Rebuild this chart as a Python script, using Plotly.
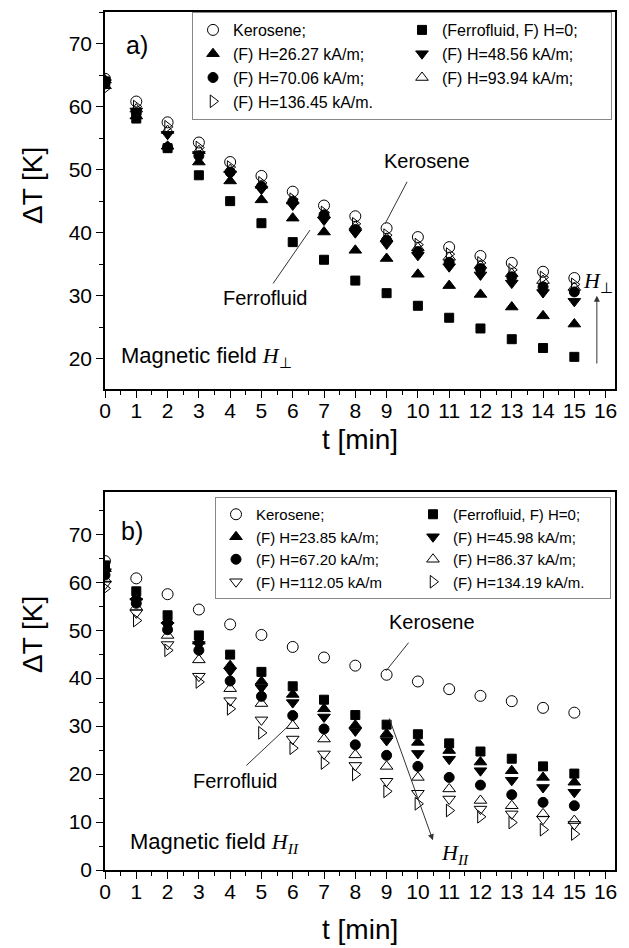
import plotly.graph_objects as go

# ---------------- data ----------------
t_min = list(range(16))

kerosene = [64.4, 60.8, 57.5, 54.3, 51.2, 49.0, 46.5, 44.3, 42.6, 40.7, 39.3, 37.7, 36.3, 35.2, 33.8, 32.8]

# panel a) perpendicular field
a_labels = ["(Ferrofluid, F) H=0;", "(F) H=26.27 kA/m;", "(F) H=48.56 kA/m;",
            "(F) H=70.06 kA/m;", "(F) H=93.94 kA/m;", "(F) H=136.45 kA/m."]
a_H0 = [64.0, 58.1, 53.4, 49.1, 45.0, 41.5, 38.5, 35.7, 32.4, 30.4, 28.4, 26.5, 24.8, 23.1, 21.7, 20.3]
a_H26 = [64.2, 58.5, 53.7, 51.2, 48.2, 45.2, 42.3, 40.1, 37.2, 35.9, 33.4, 31.6, 30.2, 28.2, 26.8, 25.5]
a_H48 = [63.8, 59.3, 55.6, 52.4, 49.3, 46.9, 44.4, 42.0, 40.0, 38.2, 36.4, 34.6, 33.3, 32.0, 30.5, 29.1]
a_H70 = [63.6, 59.0, 53.5, 52.2, 49.6, 47.3, 44.9, 42.8, 40.5, 38.8, 37.0, 35.3, 34.3, 33.0, 31.4, 30.6]
a_H94 = [63.3, 59.6, 56.2, 53.0, 50.0, 47.5, 45.0, 42.8, 41.0, 39.1, 37.6, 36.1, 34.8, 33.5, 32.4, 31.3]
a_H136 = [62.9, 60.0, 56.8, 53.5, 50.4, 47.9, 45.3, 43.2, 41.4, 39.6, 38.1, 36.6, 35.2, 34.1, 32.9, 31.8]

# panel b) parallel field
b_labels = ["(Ferrofluid, F) H=0;", "(F) H=23.85 kA/m;", "(F) H=45.98 kA/m;",
            "(F) H=67.20 kA/m;", "(F) H=86.37 kA/m;", "(F) H=112.05 kA/m", "(F) H=134.19 kA/m."]
b_H0 = [63.5, 58.1, 53.1, 48.9, 44.9, 41.3, 38.3, 35.5, 32.3, 30.3, 28.3, 26.4, 24.7, 23.2, 21.6, 20.1]
b_H24 = [62.8, 56.9, 52.0, 47.7, 42.6, 39.3, 36.6, 33.6, 30.2, 28.4, 26.6, 24.9, 22.5, 20.7, 19.3, 18.3]
b_H46 = [62.2, 56.0, 51.0, 47.0, 41.5, 38.0, 34.9, 31.9, 29.0, 27.0, 24.3, 23.1, 20.7, 18.7, 17.2, 16.2]
b_H67 = [61.5, 55.6, 50.1, 45.8, 39.4, 36.2, 32.2, 29.4, 26.1, 23.9, 21.6, 19.3, 17.7, 15.7, 14.1, 13.4]
b_H86 = [60.6, 54.8, 48.9, 43.8, 37.8, 34.7, 30.1, 27.3, 24.0, 21.6, 19.3, 16.9, 14.5, 13.4, 11.7, 10.3]
b_H112 = [59.6, 53.6, 47.0, 40.4, 35.3, 31.3, 27.3, 24.2, 21.8, 18.5, 16.0, 14.8, 12.7, 11.7, 10.6, 9.5]
b_H134 = [58.7, 52.0, 45.8, 39.2, 33.6, 28.6, 25.4, 22.3, 19.9, 16.4, 13.8, 12.4, 11.1, 9.9, 8.4, 7.5]

# ---------------- figure ----------------
FONT = "Liberation Sans, Arial, sans-serif"
SERIF = "Liberation Serif, Times New Roman, serif"
fig = go.Figure()

def add(y, name, symbol, xa, ya, leg, size=10):
    fig.add_trace(go.Scatter(
        x=t_min, y=y, mode="markers", name=name, legend=leg,
        xaxis=xa, yaxis=ya,
        marker=dict(symbol=symbol, size=size, color="black",
                    line=dict(color="black", width=1))))

add(kerosene, "Kerosene;", "circle-open", "x", "y", "legend", 11)
add(a_H0, a_labels[0], "square", "x", "y", "legend", 9)
add(a_H26, a_labels[1], "triangle-up", "x", "y", "legend", 11)
add(a_H48, a_labels[2], "triangle-down", "x", "y", "legend", 11)
add(a_H70, a_labels[3], "circle", "x", "y", "legend", 10)
add(a_H94, a_labels[4], "triangle-up-open", "x", "y", "legend", 11)
add(a_H136, a_labels[5], "triangle-right-open", "x", "y", "legend", 11)

add(kerosene, "Kerosene;", "circle-open", "x2", "y2", "legend2", 11)
add(b_H0, b_labels[0], "square", "x2", "y2", "legend2", 9)
add(b_H24, b_labels[1], "triangle-up", "x2", "y2", "legend2", 11)
add(b_H46, b_labels[2], "triangle-down", "x2", "y2", "legend2", 11)
add(b_H67, b_labels[3], "circle", "x2", "y2", "legend2", 10)
add(b_H86, b_labels[4], "triangle-up-open", "x2", "y2", "legend2", 11)
add(b_H112, b_labels[5], "triangle-down-open", "x2", "y2", "legend2", 11)
add(b_H134, b_labels[6], "triangle-right-open", "x2", "y2", "legend2", 11)

W, H = 629, 948
ML, MR, MT, MB = 105, 14, 12, 78
plot_w = W - ML - MR
plot_h = H - MT - MB
a_bot = (H - MB - 389) / plot_h
b_top = (H - MB - 492) / plot_h

def px_x(px):
    return (px - ML) / plot_w

def px_y(py):
    return (H - MB - py) / plot_h

axis_common = dict(showline=True, linecolor="black", linewidth=1.5, mirror=True,
                   ticks="outside", ticklen=7, tickwidth=1.3, tickcolor="black",
                   showgrid=False, zeroline=False, automargin=False,
                   tickfont=dict(family=FONT, size=21, color="black"))
xcommon = dict(axis_common, range=[0, 16.3], tick0=0, dtick=1, ticklabelstandoff=-5,
               minor=dict(dtick=0.5, ticklen=4, ticks="outside", tickcolor="black", tickwidth=1))
ycommon = dict(axis_common, tick0=0, dtick=10,
               minor=dict(dtick=5, ticklen=4, ticks="outside", tickcolor="black", tickwidth=1))
xtitle_font = dict(family=FONT, size=28, color="black")

legend_common = dict(orientation="h", entrywidthmode="pixels",
                     bgcolor="white", bordercolor="#888888", borderwidth=1,
                     xanchor="left", yanchor="top", itemclick=False, tracegroupgap=0)

fig.update_layout(
    width=W, height=H, margin=dict(l=ML, r=MR, t=MT, b=MB),
    paper_bgcolor="white", plot_bgcolor="white",
    xaxis=dict(xcommon, domain=[0, 1], anchor="y",
               title=dict(text="t [min]", font=xtitle_font, standoff=8)),
    yaxis=dict(ycommon, domain=[a_bot, 1], range=[15.2, 75], anchor="x"),
    xaxis2=dict(xcommon, domain=[0, 1], anchor="y2"),
    yaxis2=dict(ycommon, domain=[0, b_top], range=[0, 78.8], anchor="x2"),
    legend=dict(legend_common, x=px_x(192), y=px_y(12), entrywidth=164,
                font=dict(family=FONT, size=16, color="black")),
    legend2=dict(legend_common, x=px_x(215), y=px_y(497), entrywidth=152,
                 font=dict(family=FONT, size=15, color="black")),
    showlegend=True,
)

line_col = "#333333"
ann = []
def text(x, y, s, xr, yr, size=20, xanchor="center", family=FONT, angle=0):
    ann.append(dict(x=x, y=y, xref=xr, yref=yr, text=s, showarrow=False,
                    xanchor=xanchor, yanchor="middle", textangle=angle,
                    font=dict(family=family, size=size, color="black")))

def pointer(x0, y0, x1, y1, xr, yr, head=0):
    ann.append(dict(x=x1, y=y1, ax=x0, ay=y0, xref=xr, yref=yr, axref=xr, ayref=yr,
                    text="", showarrow=True, arrowhead=head, arrowsize=1.2,
                    arrowwidth=1, arrowcolor=line_col, standoff=0, startstandoff=0))

# axis titles drawn as annotations where the reference offsets them
text(px_x(32), px_y(186), "ΔT [K]", "paper", "paper", size=28, angle=-90)
text(px_x(32), px_y(635), "ΔT [K]", "paper", "paper", size=28, angle=-90)
text(0.5, px_y(929), "t [min]", "paper", "paper", size=28)

# panel a
text(0.6, 69.7, "a)", "x", "y", size=25, xanchor="left")
text(10.3, 51.4, "Kerosene", "x", "y")
pointer(9.68, 48.3, 8.95, 41.4, "x", "y")
text(5.11, 29.6, "Ferrofluid", "x", "y")
pointer(5.34, 31.7, 6.55, 40.4, "x", "y")
pointer(15.72, 19.0, 15.72, 30.0, "x", "y", head=2)
text(15.75, 32.2, "<i>H</i><sub>⊥</sub>", "x", "y", size=22, family=SERIF)
text(0.45, 20.3, "Magnetic field <span style='font-family:Liberation Serif'><i>H</i><sub>⊥</sub></span>",
     "x", "y", size=22, xanchor="left")

# panel b
text(0.45, 70.6, "b)", "x2", "y2", size=25, xanchor="left")
text(10.45, 51.6, "Kerosene", "x2", "y2")
pointer(9.74, 47.7, 8.98, 41.5, "x2", "y2")
text(4.15, 18.6, "Ferrofluid", "x2", "y2")
pointer(4.47, 21.5, 5.81, 29.7, "x2", "y2")
pointer(9.07, 31.9, 10.48, 6.2, "x2", "y2", head=2)
text(11.18, 3.4, "<i>H</i><sub><i>II</i></sub>", "x2", "y2", size=22, family=SERIF)
text(0.72, 5.7, "Magnetic field <span style='font-family:Liberation Serif'><i>H</i><sub><i>II</i></sub></span>",
     "x2", "y2", size=22, xanchor="left")

fig.update_layout(annotations=ann)
fig.write_html("out.html")
